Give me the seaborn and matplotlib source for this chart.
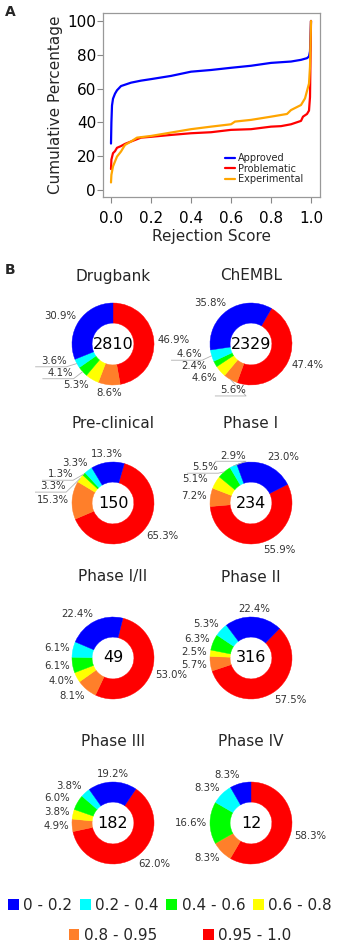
import numpy as np
import pandas as pd
import matplotlib
matplotlib.use("Agg")
import matplotlib.pyplot as plt
import seaborn as sns
from matplotlib.patches import Patch

# panel A - cumulative curves
approved_x = [0.0, 0.002, 0.005, 0.01, 0.02, 0.03, 0.05, 0.1, 0.15, 0.2, 0.3, 0.4, 0.5, 0.6, 0.7, 0.8, 0.9, 0.95, 0.98, 0.99, 0.995, 1.0]
approved_y = [27.5, 40, 50, 54, 57, 59, 61.5, 63.5, 64.7, 65.6, 67.5, 70, 71, 72.3, 73.5, 75.2, 76, 77, 78, 79, 82, 100]
problematic_x = [0.0, 0.002, 0.01, 0.02, 0.03, 0.05, 0.07, 0.1, 0.15, 0.2, 0.3, 0.4, 0.5, 0.6, 0.7, 0.8, 0.85, 0.9, 0.95, 0.96, 0.98, 0.99, 0.995, 1.0]
problematic_y = [12.4, 18, 21.8, 23, 25, 26, 27.3, 28.7, 31, 31.5, 32.6, 33.6, 34.2, 35.6, 36, 37.5, 37.8, 38.9, 40.9, 43.4, 45, 47, 55, 100]
experimental_x = [0.0, 0.002, 0.01, 0.03, 0.05, 0.07, 0.1, 0.13, 0.2, 0.3, 0.4, 0.5, 0.6, 0.62, 0.7, 0.8, 0.88, 0.9, 0.95, 0.97, 0.99, 0.995, 1.0]
experimental_y = [4.5, 9, 14, 19.8, 22.8, 26.7, 28.7, 31, 32, 34, 36, 37.5, 38.9, 40.5, 41.5, 43.4, 45, 47.3, 50.3, 54.2, 63, 72.9, 100]
groups = ["Approved", "Problematic", "Experimental"]
line_colors = ["#0000ff", "#ff0000", "#ffa500"]

# panel B - rejection score bins (order: 0-0.2 ... 0.95-1.0)
bins = ["0 - 0.2", "0.2 - 0.4", "0.4 - 0.6", "0.6 - 0.8", "0.8 - 0.95", "0.95 - 1.0"]
bin_colors = ["#0000ff", "#00ffff", "#00ff00", "#ffff00", "#ff7f2a", "#ff0000"]
sets = ["Drugbank", "ChEMBL", "Pre-clinical", "Phase I", "Phase I/II", "Phase II", "Phase III", "Phase IV"]
totals = [2810, 2329, 150, 234, 49, 316, 182, 12]
drugbank = [30.9, 3.6, 4.1, 5.3, 8.6, 46.9]
chembl = [35.8, 4.6, 2.4, 4.6, 5.6, 47.4]
preclinical = [13.3, 3.3, 1.3, 3.3, 15.3, 65.3]
phase1 = [23.0, 2.9, 5.5, 5.1, 7.2, 55.9]
phase12 = [22.4, 6.1, 6.1, 4.0, 8.1, 53.0]
phase2 = [22.4, 5.3, 6.3, 2.5, 5.7, 57.5]
phase3 = [19.2, 3.8, 6.0, 3.8, 4.9, 62.0]
phase4 = [8.3, 8.3, 16.6, 0.0, 8.3, 58.3]
pcts = [drugbank, chembl, preclinical, phase1, phase12, phase2, phase3, phase4]
# rotation of each donut (deg clockwise from 12 o'clock where the red wedge starts)
rotation = [0, 30, 16, 63, 14, 44, 34, 0]

sns.set_theme(style="white")
plt.rcParams["font.family"] = ["DejaVu Sans"]

W, H = 340, 944
fig = plt.figure(figsize=(W / 100, H / 100), dpi=100)


def rect(x0, y0, x1, y1):
    # pixel box -> figure fraction
    return [x0 / W, 1 - y1 / H, (x1 - x0) / W, (y1 - y0) / H]


# ---------- A ----------
ax = fig.add_axes(rect(103, 13, 320, 197))
df = pd.concat([
    pd.DataFrame({"score": approved_x, "pct": approved_y, "group": "Approved"}),
    pd.DataFrame({"score": problematic_x, "pct": problematic_y, "group": "Problematic"}),
    pd.DataFrame({"score": experimental_x, "pct": experimental_y, "group": "Experimental"}),
])
sns.lineplot(data=df, x="score", y="pct", hue="group", hue_order=groups,
             palette=dict(zip(groups, line_colors)), estimator=None, sort=False,
             linewidth=1.6, ax=ax)
ax.set_xlim(-0.04, 1.045)
ax.set_ylim(-4.1, 104.7)
ax.set_xticks(np.arange(0, 1.01, 0.2))
ax.set_xticklabels([f"{t:.1f}" for t in np.arange(0, 1.01, 0.2)])
ax.set_yticks(range(0, 101, 20))
ax.tick_params(axis="both", direction="out", length=4, width=0.8, color="#888888",
               labelsize=11, labelcolor="black", bottom=True, left=True)
ax.tick_params(axis="x", pad=6)
ax.tick_params(axis="y", pad=1)
for sp in ax.spines.values():
    sp.set_color("#999999")
    sp.set_linewidth(0.9)
ax.set_xlabel("Rejection Score", fontsize=11, labelpad=2)
ax.set_ylabel("Cumulative Percentage", fontsize=11, labelpad=3)
ax.legend(loc="lower left", bbox_to_anchor=(0.56, 0.07), frameon=False, fontsize=7,
          handlelength=1.1, handletextpad=0.3, labelspacing=0.05, borderpad=0,
          borderaxespad=0)
fig.text(10 / W, 1 - 12 / H, "A", fontsize=10, fontweight="bold", ha="center", va="center")
fig.text(10 / W, 1 - 270 / H, "B", fontsize=10, fontweight="bold", ha="center", va="center")

# ---------- B ----------
R = 41
col_x = [113, 251]
row_y = [344, 503, 658, 823]
title_y = [276, 423, 577, 742]
LW = 0.8   # label width (data units)
GAP = 0.29


def donut(ax, values, start, total):
    vals = values[::-1]
    cols = bin_colors[::-1]
    wedges, _ = ax.pie(vals, colors=cols, startangle=90 - start, counterclock=False, radius=1,
                       wedgeprops=dict(width=0.49, linewidth=0.3))
    for w in wedges:
        w.set_edgecolor(w.get_facecolor())
    ax.text(0, 0, str(total), ha="center", va="center", fontsize=11.5, color="black")
    fr = np.array(vals) / sum(vals)
    labs = []
    cum = 0
    for v, f in zip(vals, fr):
        if v <= 0:
            cum += f
            continue
        a = np.deg2rad(90 - start - 360 * (cum + f / 2))
        cum += f
        c, s = np.cos(a), np.sin(a)
        ha = "left" if c > 0.2 else ("right" if c < -0.2 else "center")
        labs.append(dict(t=f"{v:.1f}%", w=0.0 if v >= 8 else 1.0, c=c, s=s, x=1.08 * c,
                         y=1.2 * s, y0=1.2 * s, ha=ha, side=1 if c >= 0 else -1))

    def span(l):
        if l["ha"] == "left":
            return l["x"], l["x"] + LW
        if l["ha"] == "right":
            return l["x"] - LW, l["x"]
        return l["x"] - LW / 2, l["x"] + LW / 2

    def relocate(l):
        l["ha"] = "left" if l["side"] > 0 else "right"
        l["x"] = l["side"] * (np.sqrt(max(0, 1.1 ** 2 - l["y"] ** 2)) + 0.12)

    # spread small-slice labels apart; big-slice labels stay put
    for side in (-1, 1):
        grp = [l for l in labs if l["side"] == side]
        for _ in range(500):
            moved = False
            for i in range(len(grp)):
                for j in range(i + 1, len(grp)):
                    hi, lo = (grp[i], grp[j]) if grp[i]["y"] >= grp[j]["y"] else (grp[j], grp[i])
                    a0, a1 = span(hi)
                    b0, b1 = span(lo)
                    d = hi["y"] - lo["y"]
                    wsum = hi["w"] + lo["w"]
                    if d < GAP - 1e-4 and a0 < b1 and b0 < a1 and wsum > 0:
                        deficit = GAP - d + 1e-3
                        hi["y"] += deficit * hi["w"] / wsum
                        lo["y"] -= deficit * lo["w"] / wsum
                        for l in (hi, lo):
                            if l["w"] > 0:
                                relocate(l)
                        moved = True
            if not moved:
                break

    for l in labs:
        ax.text(l["x"], l["y"], l["t"], ha=l["ha"], va="center", fontsize=7.3, color="#333333")
        if abs(l["y"] - l["y0"]) > 0.04:
            yb = l["y"] - 0.14
            ax.plot([l["c"] * 1.0, l["x"], l["x"] + l["side"] * LW * 0.95],
                    [l["s"] * 1.0, yb, yb], color="#b0b0b0", lw=0.6, solid_capstyle="butt")


for k, (name, tot, vals, rot) in enumerate(zip(sets, totals, pcts, rotation)):
    cx = col_x[k % 2]
    cy = row_y[k // 2]
    hw, hh = 80, 62
    pax = fig.add_axes(rect(cx - hw, cy - hh, cx + hw, cy + hh))
    donut(pax, vals, rot, tot)
    pax.set_xlim(-hw / R, hw / R)
    pax.set_ylim(-hh / R, hh / R)
    pax.set_aspect("equal")
    pax.axis("off")
    fig.text(cx / W, 1 - title_y[k // 2] / H, name, ha="center", va="center", fontsize=11)

handles = [Patch(facecolor=c, edgecolor="none") for c in bin_colors]
kw = dict(loc="center", frameon=False, fontsize=11, handlelength=0.7, handleheight=0.7,
          handletextpad=0.3, columnspacing=0.5, borderpad=0, borderaxespad=0)
fig.legend(handles[:4], bins[:4], ncol=4, bbox_to_anchor=(0.5, 1 - 905 / H), **kw)
fig.legend(handles[4:], bins[4:], ncol=2, bbox_to_anchor=(0.53, 1 - 935 / H),
           **dict(kw, columnspacing=3.0))

fig.savefig("out.png", dpi=100)
